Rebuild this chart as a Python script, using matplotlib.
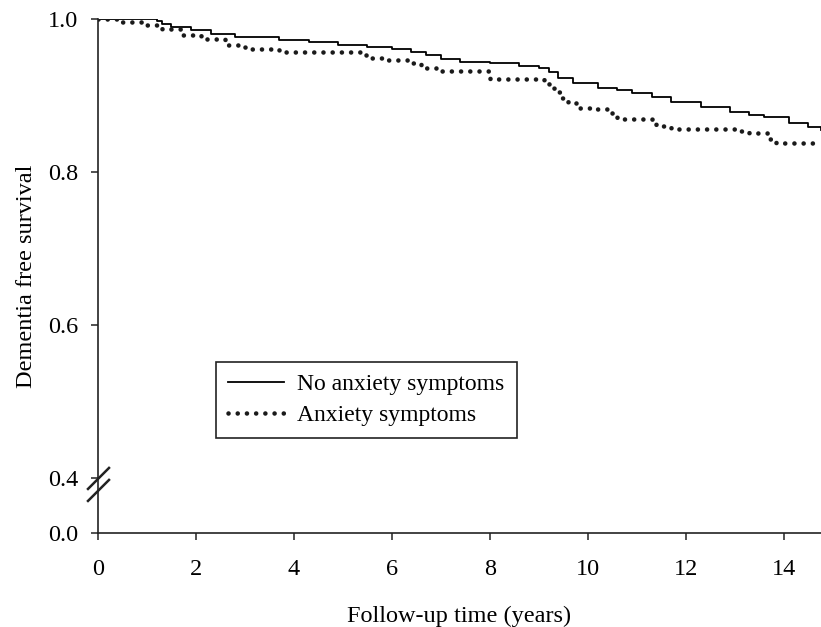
import matplotlib as mpl
import matplotlib.pyplot as plt
import numpy as np

mpl.rcParams.update(
    {
        "font.family": ["Liberation Serif", "DejaVu Serif"],
        "font.size": 17,
        "axes.labelsize": 17.5,
        "xtick.labelsize": 17.5,
        "ytick.labelsize": 17.5,
        "legend.fontsize": 17,
    }
)

# -----------------------------
# data
# -----------------------------
no_anx_t = [0, 1.2, 1.3, 1.5, 1.9, 2.3, 2.8, 3.7, 4.3, 4.9, 5.5, 6.0, 6.4, 6.7,
            7.0, 7.4, 8.0, 8.6, 9.0, 9.2, 9.4, 9.7, 10.2, 10.6, 10.9, 11.3,
            11.7, 12.3, 12.9, 13.3, 13.6, 14.1, 14.5, 14.75]
no_anx_s = [1.0, 0.997, 0.994, 0.990, 0.986, 0.980, 0.976, 0.973, 0.970,
            0.966, 0.964, 0.961, 0.957, 0.953, 0.948, 0.944, 0.942, 0.939,
            0.936, 0.931, 0.923, 0.916, 0.910, 0.907, 0.903, 0.898, 0.892,
            0.885, 0.878, 0.875, 0.872, 0.864, 0.859, 0.855]

anx_t = [0, 0.5, 1.0, 1.3, 1.7, 2.1, 2.6, 3.0, 3.7, 5.4, 5.6, 5.9, 6.4, 6.6,
         6.9, 8.0, 9.1, 9.2, 9.3, 9.45, 9.6, 9.8, 10.1, 10.4, 10.6, 11.3,
         11.4, 11.7, 13.1, 13.3, 13.7, 13.85, 14.75]
anx_s = [1.0, 0.996, 0.992, 0.987, 0.979, 0.974, 0.966, 0.961, 0.957, 0.953,
         0.949, 0.946, 0.943, 0.936, 0.932, 0.922, 0.918, 0.913, 0.905, 0.897,
         0.890, 0.884, 0.882, 0.877, 0.869, 0.865, 0.860, 0.856, 0.854, 0.851,
         0.843, 0.838, 0.838]

x_ticks = [0, 2, 4, 6, 8, 10, 12, 14]
y_ticks = [0.4, 0.6, 0.8, 1.0]
y_labels = ["0.4", "0.6", "0.8", "1.0"]

# broken axis: "0.0" sits this far below 0.4 on the drawn scale
y_zero_pos = 0.328

# -----------------------------
# figure
# -----------------------------
W, H = 821, 627
AX_L, AX_T, AX_B = 98, 19, 533
fig = plt.figure(figsize=(W / 100, H / 100), dpi=100)
ax = fig.add_axes([AX_L / W, (H - AX_B) / H, (W - AX_L) / W, (AX_B - AX_T) / H])

ax.plot(no_anx_t, no_anx_s, color="black", linewidth=1.3,
        drawstyle="steps-post", label="No anxiety symptoms")
ax.plot(anx_t, anx_s, color="#1a1a1a", linewidth=3.3,
        linestyle=(0, (0.01, 2.0)), dash_capstyle="round",
        drawstyle="steps-post", label="Anxiety symptoms")

ax.set_xlim(0, 14.76)
ax.set_ylim(y_zero_pos, 1.0)
ax.set_xticks(x_ticks)
ax.set_yticks([y_zero_pos] + y_ticks)
ax.set_yticklabels(["0.0"] + y_labels)

for s in ["top", "right"]:
    ax.spines[s].set_visible(False)
for s in ["left", "bottom"]:
    ax.spines[s].set_linewidth(1.2)
    ax.spines[s].set_color("#222222")
ax.tick_params(direction="out", length=5, width=1.1, color="#222222")
ax.tick_params(axis="y", pad=9)
ax.tick_params(axis="x", pad=14)

ax.set_xlabel("Follow-up time (years)", labelpad=18)
ax.set_ylabel("Dementia free survival", labelpad=8)

# break marks on the y axis (pixel offsets around the 0.4 level)
y_frac = (0.4 - y_zero_pos) / (1.0 - y_zero_pos)
px_w = 1 / (W - AX_L)
px_h = 1 / (AX_B - AX_T)
for dy in (0, -12):
    ax.plot([-10 * px_w, 11 * px_w],
            [y_frac + (dy - 11) * px_h, y_frac + (dy + 10) * px_h],
            color="#222222", linewidth=1.8, transform=ax.transAxes,
            clip_on=False)

leg = ax.legend(loc="lower left", bbox_to_anchor=(216 / W, 1 - 438 / H),
                bbox_transform=fig.transFigure, fancybox=False,
                edgecolor="#222222", framealpha=1, handlelength=2.4,
                handletextpad=0.55, borderpad=0.5, labelspacing=0.4,
                borderaxespad=0)
leg.get_frame().set_linewidth(1.2)

plt.savefig("out.png", dpi=100)
